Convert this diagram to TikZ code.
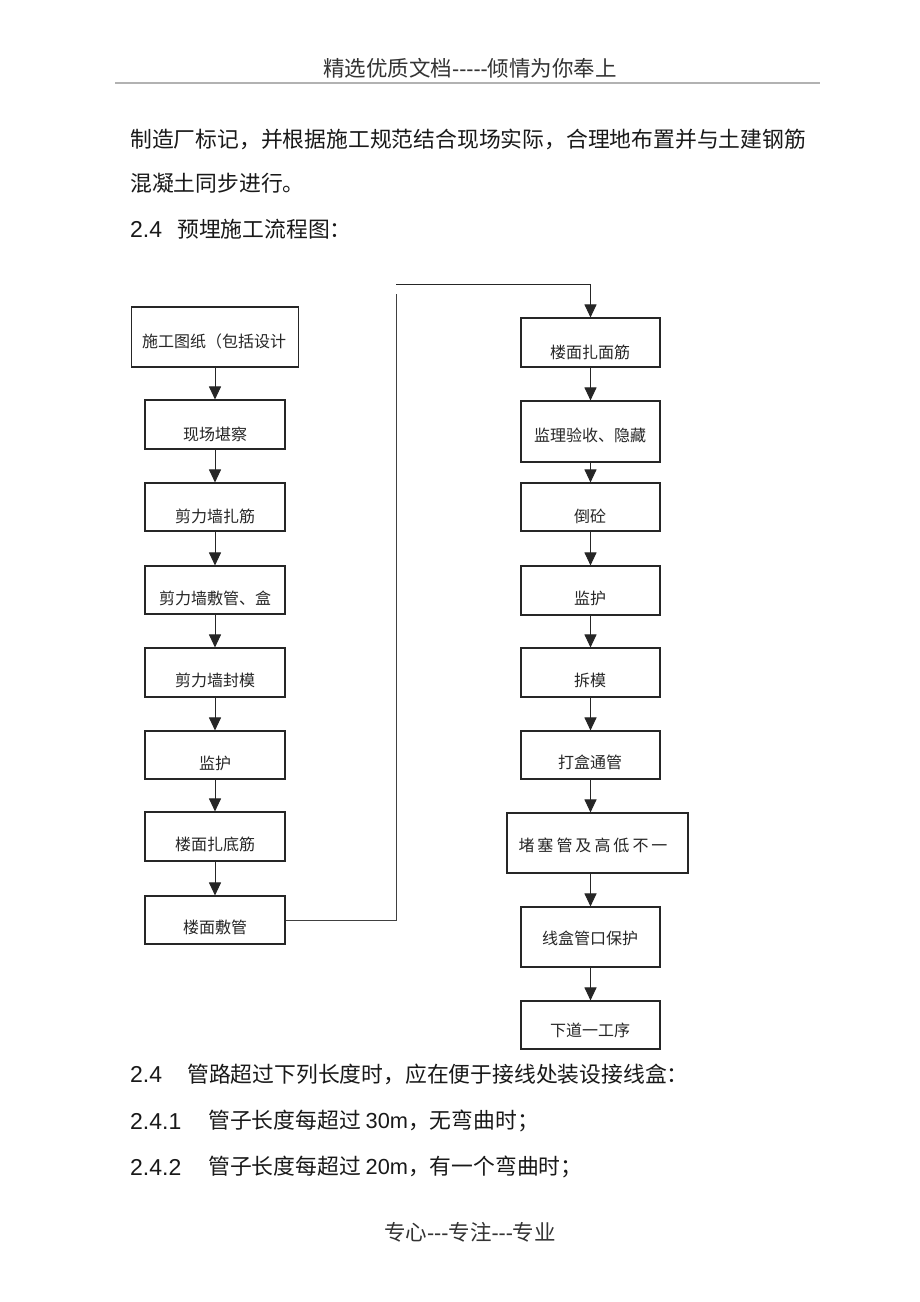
\documentclass[tikz,border=0pt]{standalone}
\usepackage{fontspec}
\setmainfont{Liberation Sans}
\newfontfamily\cjk{Noto Sans CJK SC}
\usetikzlibrary{arrows.meta}
\begin{document}
\begin{tikzpicture}[x=1pt,y=-1pt,
  box/.style={draw=black!85, line width=1.1pt, inner sep=0pt, minimum width=140pt, minimum height=48pt},
  lbl/.style={font=\cjk\fontsize{16}{16}\selectfont, inner sep=0pt, text=black!85},
  arr/.style={draw=black!85, line width=1pt, -{Triangle[width=12pt,length=13pt]}},
  conn/.style={draw=black!75, line width=1pt},
  body/.style={anchor=west, inner sep=0pt, text=black!90, font=\cjk\fontsize{21.8}{21.8}\selectfont},
  num/.style={anchor=west, inner sep=0pt, text=black!90, font=\fontsize{23}{23}\selectfont},
  hf/.style={inner sep=0pt, text=black!80, font=\cjk\fontsize{21.5}{21.5}\selectfont}
]
\useasboundingbox[fill=white] (0,0) rectangle (920,1302);

% header and footer
\node[hf] (head) at (470,68) {精选优质文档{\rmfamily -{}-{}-{}-{}-}倾情为你奉上};
\coordinate (hl) at (115,83);
\coordinate (hr) at (820,83);
\draw[black!30, line width=1.4pt] (hl) -- (hr);
\node[hf] (foot) at (470,1232) {专心{\rmfamily -{}-{}-}专注{\rmfamily -{}-{}-}专业};

% paragraph text
\node[body] (p1) at (130,139) {制造厂标记，并根据施工规范结合现场实际，合理地布置并与土建钢筋};
\node[body] (p2) at (130,183) {混凝土同步进行。};
\node[num] (n3) at (130,229) {2.4};
\node[body] (p3) at (177,229) {预埋施工流程图：};

\node[num] (n4) at (130,1074) {2.4};
\node[body] (p4) at (187,1074) {管路超过下列长度时，应在便于接线处装设接线盒：};
\node[num] (n5) at (130,1121) {2.4.1};
\node[body] (p5) at (208,1121) {管子长度每超过\ {\rmfamily 30m}，无弯曲时；};
\node[num] (n6) at (130,1167) {2.4.2};
\node[body] (p6) at (208,1167) {管子长度每超过\ {\rmfamily 20m}，有一个弯曲时；};

% left column
\node[box, minimum width=167pt, minimum height=60pt] (L1) at (215,337) {};
\node[box, minimum height=49pt] (L2) at (215,424.5) {};
\node[box] (L3) at (215,507) {};
\node[box] (L4) at (215,590) {};
\node[box, minimum height=49pt] (L5) at (215,672.5) {};
\node[box] (L6) at (215,755) {};
\node[box, minimum height=49pt] (L7) at (215,836.5) {};
\node[box] (L8) at (215,920) {};

\node[lbl] (tL1) at (214,341) {施工图纸（包括设计};
\node[lbl] (tL2) at (215,434) {现场堪察};
\node[lbl] (tL3) at (215,516) {剪力墙扎筋};
\node[lbl] (tL4) at (215,598) {剪力墙敷管、盒};
\node[lbl] (tL5) at (215,680) {剪力墙封模};
\node[lbl] (tL6) at (215,763) {监护};
\node[lbl] (tL7) at (215,844) {楼面扎底筋};
\node[lbl] (tL8) at (215,927) {楼面敷管};

% right column
\node[box, minimum width=139pt, minimum height=49pt] (R1) at (590.5,342.5) {};
\node[box, minimum width=139pt, minimum height=61pt] (R2) at (590.5,431.5) {};
\node[box, minimum width=139pt] (R3) at (590.5,507) {};
\node[box, minimum width=139pt, minimum height=49pt] (R4) at (590.5,590.5) {};
\node[box, minimum width=139pt, minimum height=49pt] (R5) at (590.5,672.5) {};
\node[box, minimum width=139pt] (R6) at (590.5,755) {};
\node[box, minimum width=181pt, minimum height=60pt] (R7) at (597.5,843) {};
\node[box, minimum width=139pt, minimum height=60pt] (R8) at (590.5,937) {};
\node[box, minimum width=139pt] (R9) at (590.5,1025) {};

\node[lbl] (tR1) at (590,352) {楼面扎面筋};
\node[lbl] (tR2) at (590,435) {监理验收、隐藏};
\node[lbl] (tR3) at (590,516) {倒砼};
\node[lbl] (tR4) at (590,598) {监护};
\node[lbl] (tR5) at (590,680) {拆模};
\node[lbl] (tR6) at (590,762) {打盒通管};
\node[lbl] (tR7) at (593,845) {堵\hspace{3pt}塞\hspace{3pt}管\hspace{3pt}及\hspace{3pt}高\hspace{3pt}低\hspace{3pt}不\hspace{3pt}一};
\node[lbl] (tR8) at (590,938) {线盒管口保护};
\node[lbl] (tR9) at (590,1030) {下道一工序};

% arrows left
\draw[arr] (L1.south) -- (L2.north);
\draw[arr] (L2.south) -- (L3.north);
\draw[arr] (L3.south) -- (L4.north);
\draw[arr] (L4.south) -- (L5.north);
\draw[arr] (L5.south) -- (L6.north);
\draw[arr] (L6.south) -- (L7.north);
\draw[arr] (L7.south) -- (L8.north);

% connector between columns
\coordinate (c1) at (396,294);
\coordinate (c2) at (396,284);
\draw[conn] (L8.east) -| (c1);
\draw[arr] (c2) -| (R1.north);

% arrows right
\draw[arr] (R1.south) -- (R2.north);
\draw[arr] (R2.south) -- (R3.north);
\draw[arr] (R3.south) -- (R4.north);
\draw[arr] (R4.south) -- (R5.north);
\draw[arr] (R5.south) -- (R6.north);
\draw[arr] (R6.south) -- (R6.south |- R7.north);
\draw[arr] (R8.north |- R7.south) -- (R8.north);
\draw[arr] (R8.south) -- (R9.north);
\end{tikzpicture}
\end{document}
